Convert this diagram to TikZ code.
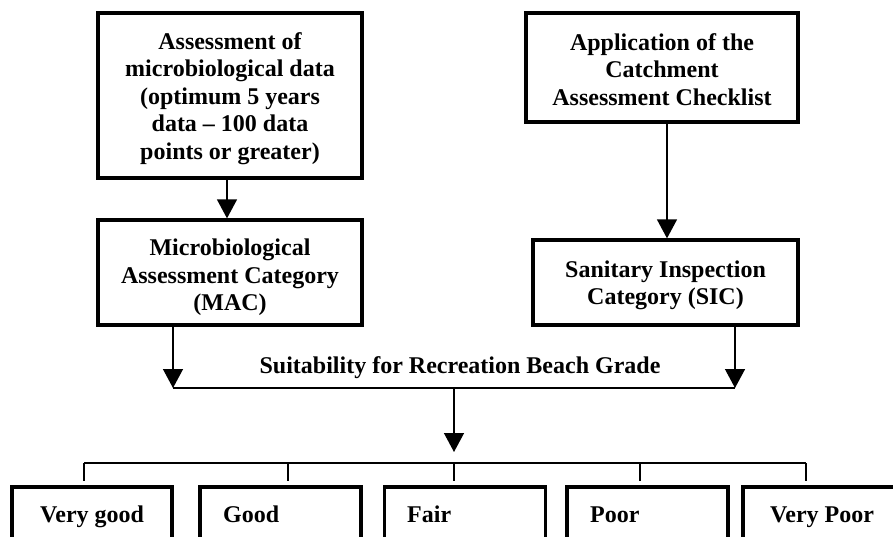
\documentclass[tikz,border=0pt]{standalone}
\usepackage{fontspec}
\setmainfont{Liberation Serif}
\usetikzlibrary{arrows.meta}
\begin{document}
\begin{tikzpicture}[x=1pt,y=-1pt,
  every node/.style={font=\bfseries\fontsize{24}{27.5}\selectfont},
  box/.style={draw,line width=3.3pt,inner sep=0pt},
  txt/.style={align=center,inner sep=0pt},
  conn/.style={line width=1.4pt},
  arr/.style={conn,-{Triangle[width=20pt,length=19pt]}},
  lbl/.style={anchor=base west,inner sep=0pt}]
\useasboundingbox (0,0) rectangle (893,537);
\clip (0,0) rectangle (893,537);
% top boxes
\node[box,minimum width=264pt,minimum height=165pt] (amd) at (230,95.5) {};
\node[txt] at ([yshift=-3pt]amd.center)
  {Assessment of\\microbiological data\\(optimum 5 years\\data -- 100 data\\points or greater)};
\node[box,minimum width=264pt,minimum height=105pt] (mac) at (230,272.5) {};
\node[txt] at ([yshift=-5pt]mac.center)
  {Microbiological\\Assessment Category\\(MAC)};
\node[box,minimum width=272pt,minimum height=109pt] (cac) at (662,67.5) {};
\node[txt] at ([yshift=-2pt]cac.center)
  {Application of the\\Catchment\\Assessment Checklist};
\node[box,minimum width=265pt,minimum height=85pt] (sic) at (665.5,282.5) {};
\node[txt] at ([yshift=-3pt]sic.center)
  {Sanitary Inspection\\Category (SIC)};
% arrows
\draw[arr] ([xshift=-3pt]amd.south) -- ([xshift=-3pt]mac.north);
\draw[arr] ([xshift=5pt]cac.south) -- ([xshift=1.5pt]sic.north);
\coordinate (jl) at (173,388);
\coordinate (jr) at (735,388);
\coordinate (jm) at (454,388);
\coordinate (jt) at (454,452);
\draw[arr] (mac.south -| jl) -- (jl);
\draw[arr] (sic.south -| jr) -- (jr);
\draw[conn] (jl) -- (jr);
\node[anchor=base,inner sep=0pt] (suit) at (460,373) {Suitability for Recreation Beach Grade};
\draw[arr] (jm) -- (jt);
% tree
\coordinate (t1) at (84,463);
\coordinate (t2) at (288,463);
\coordinate (t3) at (454,463);
\coordinate (t4) at (640,463);
\coordinate (t5) at (806,463);
\coordinate (b1) at (84,481);
\coordinate (b2) at (288,481);
\coordinate (b3) at (454,481);
\coordinate (b4) at (640,481);
\coordinate (b5) at (806,481);
\draw[conn] (t1) -- (t5);
\foreach \i in {1,...,5} {\draw[conn] (t\i) -- (b\i);}
% grade boxes (cut off by the page edge)
\node[box,minimum width=160pt,minimum height=100pt] (g1) at (92,537) {};
\node[box,minimum width=161pt,minimum height=100pt] (g2) at (280.5,537) {};
\node[box,minimum width=161pt,minimum height=100pt] (g3) at (465,537) {};
\node[box,minimum width=161pt,minimum height=100pt] (g4) at (647.5,537) {};
\node[box,minimum width=170pt,minimum height=100pt] (g5) at (828,537) {};
\node[lbl] at (40,522) {Very good};
\node[lbl] at (223,522) {Good};
\node[lbl] at (407,522) {Fair};
\node[lbl] at (590,522) {Poor};
\node[lbl] at (770,522) {Very Poor};
\end{tikzpicture}
\end{document}
